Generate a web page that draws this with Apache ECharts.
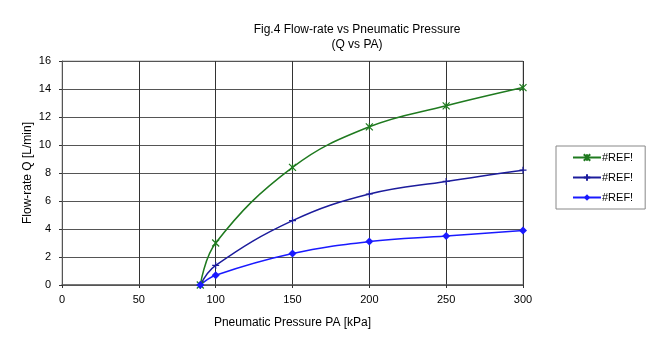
<!DOCTYPE html>
<html><head><meta charset="utf-8">
<script src="https://cdn.jsdelivr.net/npm/echarts@6/dist/echarts.min.js"></script>
<style>html,body{margin:0;padding:0;background:#fff}#c{width:658px;height:352px}</style>
</head><body><div id="c"></div>
<script>
const pressure = [90, 100, 150, 200, 250, 300];
const seriesNames = ['#REF!', '#REF!', '#REF!'];
const flowGreen = [0, 3.0, 8.4, 11.3, 12.8, 14.1];
const flowNavy = [0, 1.4, 4.6, 6.5, 7.4, 8.2];
const flowBlue = [0, 0.7, 2.25, 3.1, 3.5, 3.9];
const titleText = 'Fig.4 Flow-rate vs Pneumatic Pressure\n(Q vs PA)';
const xTitle = 'Pneumatic Pressure PA [kPa]';
const yTitle = 'Flow-rate Q [L/min]';

const asterisk = 'path://M0,0 L10,10 M10,0 L0,10 M5,0 L5,10';
const plus = 'path://M0,5 L10,5 M5,0 L5,10';
const pair = ys => pressure.map((x, i) => [x, ys[i]]);
const font = 'Liberation Sans, Arial, sans-serif';

const colors = ['#1f7a1f', '#1c1c9c', '#1a1aff'];
const chart = echarts.init(document.getElementById('c'), null, {renderer: 'canvas'});
chart.setOption({
  animation: false,
  backgroundColor: '#fff',
  title: {
    text: titleText, left: 352, top: 17, textAlign: 'center',
    textStyle: {fontFamily: font, fontSize: 12, fontWeight: 'normal', color: '#000', lineHeight: 15}
  },
  legend: {
    orient: 'vertical', left: 556, top: 146, itemGap: 9,
    itemWidth: 28, itemHeight: 8,
    padding: [6, 12, 6, 16],
    borderColor: '#888', borderWidth: 1,
    textStyle: {fontFamily: font, fontSize: 11, color: '#000', padding: [0, 0, 0, -4]},
    data: ['g', 'n', 'b'],
    formatter: () => '#REF!'
  },
  grid: {left: 62, right: 135, top: 61, bottom: 67, show: true, borderColor: '#aaa', borderWidth: 1},
  xAxis: {
    type: 'value', min: 0, max: 300, interval: 50,
    name: xTitle, nameLocation: 'middle', nameGap: 32, nameMoveOverlap: false,
    nameTextStyle: {fontFamily: font, fontSize: 12, color: '#000'},
    axisLine: {show: true, lineStyle: {color: '#555', width: 1.5}},
    axisTick: {show: true, length: 3, lineStyle: {color: '#333'}},
    axisLabel: {fontFamily: font, fontSize: 11, color: '#000', margin: 9},
    splitLine: {show: true, lineStyle: {color: '#333', width: 1}}
  },
  yAxis: {
    type: 'value', min: 0, max: 16, interval: 2,
    name: yTitle, nameLocation: 'middle', nameGap: 34, nameMoveOverlap: false,
    nameTextStyle: {fontFamily: font, fontSize: 12, color: '#000', verticalAlign: 'middle'},
    axisLine: {show: true, lineStyle: {color: '#555', width: 1}},
    axisTick: {show: true, length: 3, lineStyle: {color: '#333'}},
    axisLabel: {fontFamily: font, fontSize: 11, color: '#000', margin: 11},
    splitLine: {show: true, lineStyle: {color: '#555', width: 1}}
  },
  series: [
    {name: 'g', type: 'line', smooth: 0.4, data: pair(flowGreen), symbol: asterisk, symbolSize: 7,
     lineStyle: {color: colors[0], width: 1.5}, itemStyle: {color: colors[0], borderColor: colors[0], borderWidth: 1.2}, color: colors[0]},
    {name: 'n', type: 'line', smooth: 0.4, data: pair(flowNavy), symbol: plus, symbolSize: 7,
     lineStyle: {color: colors[1], width: 1.5}, itemStyle: {color: colors[1], borderColor: colors[1], borderWidth: 1.2}, color: colors[1]},
    {name: 'b', type: 'line', smooth: 0.4, data: pair(flowBlue), symbol: 'diamond', symbolSize: 8,
     lineStyle: {color: colors[2], width: 1.5}, itemStyle: {color: colors[2]}, color: colors[2]}
  ]
});
</script></body></html>
